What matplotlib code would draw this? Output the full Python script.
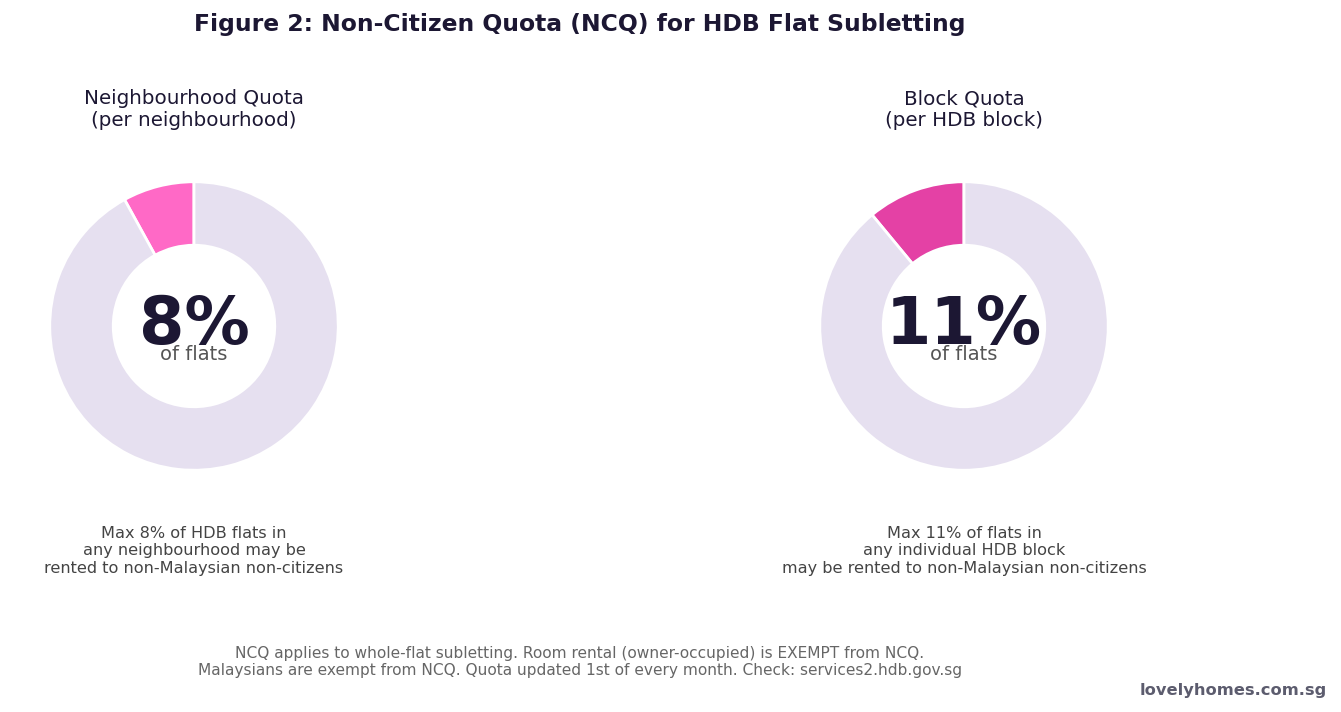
import matplotlib.pyplot as plt

# данные
quota_names = ['Neighbourhood Quota\n(per neighbourhood)', 'Block Quota\n(per HDB block)']
quota_pct = [8, 11]
quota_colors = ['#ff69c6', '#e441a5']
captions = ['Max 8% of HDB flats in\nany neighbourhood may be\nrented to non-Malaysian non-citizens',
            'Max 11% of flats in\nany individual HDB block\nmay be rented to non-Malaysian non-citizens']
rest_color = '#e6e0f0'
dark = '#1c1733'

W, H = 1341, 712
fig = plt.figure(figsize=(W / 100, H / 100), dpi=100)

centers_x = [194, 964]
cy = 326
half = 150  # пикселей

for i in range(2):
    cx = centers_x[i]
    ax = fig.add_axes([(cx - half) / W, (H - cy - half) / H, 2 * half / W, 2 * half / H])
    p = quota_pct[i]
    ax.pie([p, 100 - p], colors=[quota_colors[i], rest_color], startangle=90, counterclock=True,
           radius=1, wedgeprops=dict(width=0.44, edgecolor='white', linewidth=2))
    ax.set_xlim(-1.04, 1.04)
    ax.set_ylim(-1.04, 1.04)
    ax.set_aspect('equal')
    ax.axis('off')
    ax.text(0, 0.0, f'{p}%', ha='center', va='center', fontsize=47, fontweight='bold', color=dark)
    ax.text(0, -0.2, 'of flats', ha='center', va='center', fontsize=14, color='#555555')

    fig.text(cx / W, 1 - 110 / H, quota_names[i], ha='center', va='center', fontsize=14.3, color=dark)
    fig.text(cx / W, 1 - 551 / H, captions[i], ha='center', va='center', fontsize=11.65,
             color='#444444', linespacing=1.2)

fig.text(580 / W, 1 - 24 / H, 'Figure 2: Non-Citizen Quota (NCQ) for HDB Flat Subletting',
         ha='center', va='center', fontsize=16.9, fontweight='bold', color=dark)

fig.text(580 / W, 1 - 662 / H,
         'NCQ applies to whole-flat subletting. Room rental (owner-occupied) is EXEMPT from NCQ.\n'
         'Malaysians are exempt from NCQ. Quota updated 1st of every month. Check: services2.hdb.gov.sg',
         ha='center', va='center', fontsize=11.05, color='#666666', linespacing=1.1)

fig.text(1327 / W, 1 - 691 / H, 'lovelyhomes.com.sg', ha='right', va='center', fontsize=11.7,
         fontweight='bold', color='#5c5c6e')

fig.savefig('out.png', dpi=100)
